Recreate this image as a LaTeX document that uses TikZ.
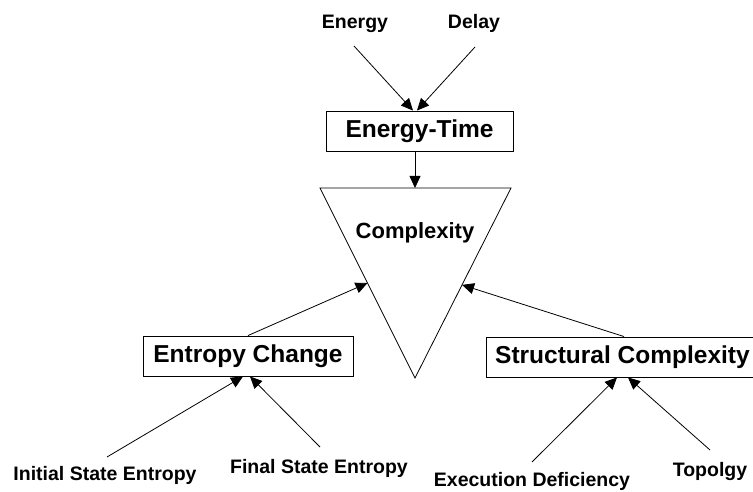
\documentclass[tikz,border=0pt]{standalone}
\usepackage{fontspec}
\setmainfont{Liberation Sans}
\usetikzlibrary{arrows.meta,calc}

\tikzset{
  lbl/.style={font=\fontsize{19.5}{22}\selectfont\bfseries, inner sep=0pt, anchor=base},
  bigbox/.style={draw, line width=0.9pt, minimum height=40pt, inner sep=0pt,
    font=\fontsize{24.5}{27}\selectfont\bfseries},
  link/.style={line width=0.8pt, -{Triangle[length=12pt,width=11pt]}},
}

\begin{document}
\begin{tikzpicture}[x=1pt,y=-1pt]
\useasboundingbox (0,0) rectangle (753,492);

% inverted triangle for the central measure
\coordinate (tl) at (320,188);
\coordinate (tr) at (511,188);
\coordinate (bot) at (415,378);
\draw[line width=0.8pt] (tl) -- (tr) -- (bot) -- cycle;
\node[font=\fontsize{22}{24}\selectfont\bfseries] (cx) at (415,233) {Complexity};

% boxes
\node[bigbox, minimum width=187pt] (et) at (419.5,131) {Energy-Time};
\node[bigbox, minimum width=210pt] (ec) at (248,356) {Entropy Change};
\node[bigbox, minimum width=274pt] (sc) at (623,357) {\hspace*{-1pt}Structural Complexity};

% leaf labels
\node[lbl] (en) at (355,29) {Energy};
\node[lbl] (dl) at (474,29) {Delay};
\node[lbl] (ini) at (105,480) {Initial State Entropy};
\node[lbl] (fin) at (319,473) {Final State Entropy};
\node[lbl] (exe) at (532,486) {Execution Deficiency};
\node[lbl] (top) at (710,476) {Topolgy};

% connector end points
\coordinate (enS) at (354,46);
\coordinate (dlS) at (475,47);
\coordinate (iniS) at (107,457);
\coordinate (finS) at (320,447);
\coordinate (exeS) at (532,462);
\coordinate (topS) at (710,450);

% arrows
\draw[link] (enS) -- ([xshift=-6.5pt]et.north);
\draw[link] (dlS) -- ([xshift=-2.5pt]et.north);
\draw[link] ([xshift=-4.5pt]et.south) -- ([xshift=-4.5pt]et.south |- tl);
\draw[link] (ec.north) -- ($(tl)!0.5!(bot)$);
\draw[link] ([xshift=1pt]sc.north) -- ($(tr)!0.51!(bot)$);
\draw[link] (iniS) -- ([xshift=-5pt]ec.south);
\draw[link] (finS) -- ([xshift=2pt]ec.south);
\draw[link] (exeS) -- ([xshift=-6pt]sc.south);
\draw[link] (topS) -- ([xshift=5pt]sc.south);
\end{tikzpicture}
\end{document}
